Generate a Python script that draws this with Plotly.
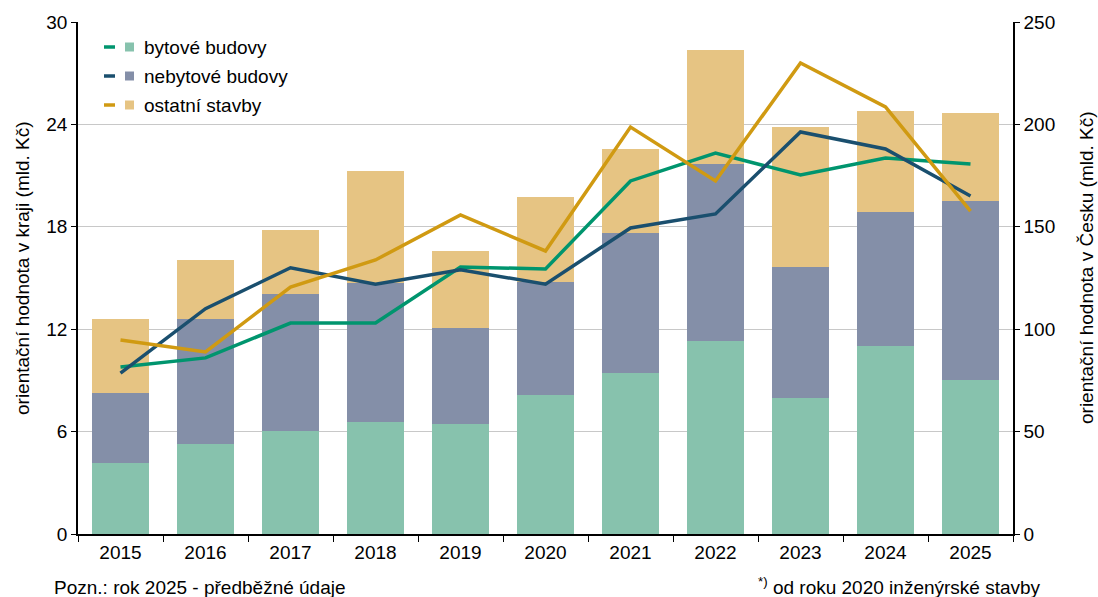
import plotly.graph_objects as go

years = ["2015", "2016", "2017", "2018", "2019", "2020", "2021", "2022", "2023", "2024", "2025"]

# bars (left axis, regional values, bn CZK)
bar_byt = [4.16, 5.27, 6.03, 6.56, 6.44, 8.14, 9.43, 11.31, 7.97, 11.01, 9.02]
bar_nebyt = [4.10, 7.33, 8.03, 8.14, 5.63, 6.62, 8.20, 10.37, 7.67, 7.85, 10.49]
bar_ost = [4.34, 3.45, 3.75, 6.57, 4.51, 4.98, 4.92, 6.67, 8.20, 5.92, 5.15]

# lines (right axis, national values, bn CZK)
line_byt = [81.5, 86, 103, 103, 130.4, 129.4, 172.4, 186, 175.3, 183.6, 180.7]
line_nebyt = [78.6, 110, 130, 122, 129, 122, 149.4, 156.3, 196.3, 188, 165]
line_ost = [94.7, 88.9, 120.6, 133.8, 155.8, 138.2, 198.7, 172.4, 230, 208.5, 157.7]

names = ["bytové budovy", "nebytové budovy", "ostatní stavby"]
bar_colors = ["#87C2AD", "#848FA8", "#E6C483"]
line_colors = ["#00956E", "#1A4F6E", "#D09A12"]

FONT = "Liberation Sans, Arial, sans-serif"
FS = 19

fig = go.Figure()
for vals, nm, col in zip([bar_byt, bar_nebyt, bar_ost], names, bar_colors):
    fig.add_trace(go.Bar(x=years, y=vals, name=nm, marker=dict(color=col, line=dict(width=0)),
                         showlegend=False, yaxis="y"))
for vals, nm, col in zip([line_byt, line_nebyt, line_ost], names, line_colors):
    fig.add_trace(go.Scatter(x=years, y=vals, name=nm, mode="lines",
                             line=dict(color=col, width=3.5), showlegend=False, yaxis="y2"))

# custom legend (line swatch + square swatch + text)
L, R, T, B = 78, 1013, 22, 534
def px(x): return (x - L) / (R - L)
def py(y): return (B - y) / (B - T)

shapes = []
annotations = []
for i, (nm, bc, lc) in enumerate(zip(names, bar_colors, line_colors)):
    yc = 47 + i * 29
    shapes.append(dict(type="line", xref="paper", yref="paper", x0=px(104), x1=px(115),
                       y0=py(yc), y1=py(yc), line=dict(color=lc, width=3.5)))
    shapes.append(dict(type="rect", xref="paper", yref="paper", x0=px(125), x1=px(134),
                       y0=py(yc + 4.5), y1=py(yc - 4.5), fillcolor=bc, line=dict(width=0)))
    annotations.append(dict(text=nm, xref="paper", yref="paper", x=px(142), y=py(yc),
                            xanchor="left", yanchor="middle", showarrow=False,
                            font=dict(size=FS, color="#000000", family=FONT)))

annotations.append(dict(text="Pozn.: rok 2025 - předběžné údaje", xref="paper", yref="paper",
                        x=px(52), y=py(587), xanchor="left", yanchor="middle", showarrow=False,
                        font=dict(size=FS, color="#000000", family=FONT)))
annotations.append(dict(text="<sup>*)</sup> od roku 2020 inženýrské stavby", xref="paper", yref="paper",
                        x=px(1043), y=py(586), xanchor="right", yanchor="middle", showarrow=False,
                        font=dict(size=FS, color="#000000", family=FONT)))
annotations.append(dict(text="orientační hodnota v kraji (mld. Kč)", xref="paper", yref="paper",
                        x=px(22), y=py(268), xanchor="center", yanchor="middle", textangle=-90,
                        showarrow=False, font=dict(size=FS, color="#000000", family=FONT)))
annotations.append(dict(text="orientační hodnota v Česku (mld. Kč)", xref="paper", yref="paper",
                        x=px(1086), y=py(268), xanchor="center", yanchor="middle", textangle=-90,
                        showarrow=False, font=dict(size=FS, color="#000000", family=FONT)))

fig.update_layout(
    width=1098, height=597,
    margin=dict(l=L, r=1098 - R, t=T, b=597 - B, autoexpand=False),
    paper_bgcolor="white", plot_bgcolor="white",
    barmode="stack", bargap=0.34,
    font=dict(family=FONT, size=FS, color="#000000"),
    shapes=shapes, annotations=annotations,
    xaxis=dict(type="category", showline=True, linecolor="#000000", linewidth=1.5,
               ticks="outside", tickson="boundaries", ticklen=6, tickcolor="#000000",
               tickfont=dict(size=FS), showgrid=False, automargin=False),
    yaxis=dict(range=[0, 30], tickvals=[0, 6, 12, 18, 24, 30], showline=True,
               linecolor="#000000", linewidth=1.5, ticks="outside", ticklen=5,
               tickcolor="#000000", showgrid=True, gridcolor="#C8C8C8", gridwidth=1,
               zeroline=False, tickfont=dict(size=FS), automargin=False),
    yaxis2=dict(range=[0, 250], tickvals=[0, 50, 100, 150, 200, 250], overlaying="y", side="right",
                showline=True, linecolor="#000000", linewidth=1.5, ticks="outside", ticklen=5,
                tickcolor="#000000", showgrid=False, zeroline=False, tickfont=dict(size=FS),
                automargin=False),
)

fig.write_html("out.html", config={"displayModeBar": False},
               post_script="document.body.style.margin='0';document.body.style.padding='0';")
